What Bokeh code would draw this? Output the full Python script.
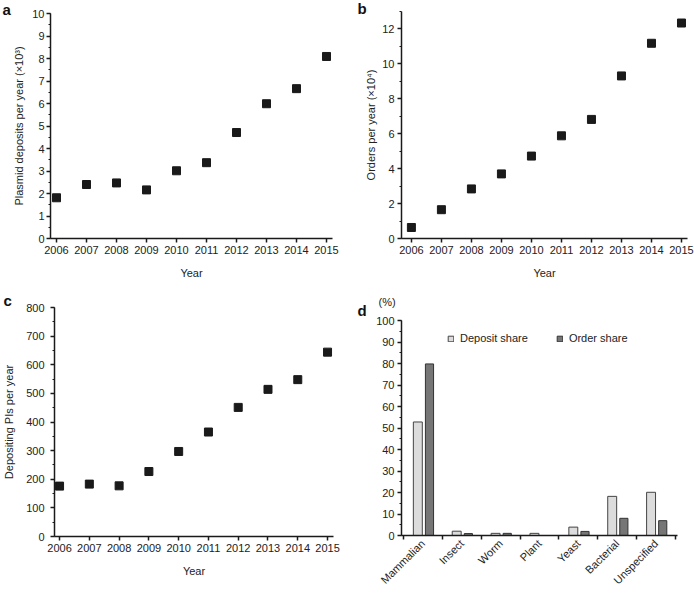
import math
from bokeh.plotting import figure
from bokeh.layouts import row, column
from bokeh.models import (Title, SingleIntervalTicker, FixedTicker, ColumnDataSource, Range1d)
from bokeh.transform import dodge
from bokeh.embed import file_html
from bokeh.resources import INLINE

# ---------------- data ----------------
years = [2006, 2007, 2008, 2009, 2010, 2011, 2012, 2013, 2014, 2015]
plasmid_deposits = [1.81, 2.40, 2.47, 2.16, 3.01, 3.37, 4.71, 5.99, 6.66, 8.09]   # x10^3
orders = [0.63, 1.65, 2.84, 3.70, 4.72, 5.88, 6.82, 9.31, 11.18, 12.34]           # x10^4
depositing_pis = [176, 183, 177, 227, 297, 365, 451, 514, 548, 644]

categories = ["Mammalian", "Insect", "Worm", "Plant", "Yeast", "Bacterial", "Unspecified"]
deposit_share = [52.8, 2.0, 1.0, 1.0, 3.9, 18.2, 20.1]
order_share = [79.8, 0.9, 1.0, 0.0, 1.9, 8.0, 6.9]

FONT = "Liberation Sans"
TXT = "#222222"
AX = "#1a1a1a"


def style_axes(p):
    for ax in (p.xaxis[0], p.yaxis[0]):
        ax.axis_line_color = AX
        ax.axis_line_width = 1.5
        ax.major_tick_line_color = AX
        ax.major_tick_line_width = 1.5
        ax.minor_tick_line_color = AX
        ax.minor_tick_line_width = 1.2
        ax.major_tick_in = 0
        ax.major_tick_out = 4
        ax.minor_tick_in = 0
        ax.minor_tick_out = 2
        ax.major_label_text_font = FONT
        ax.major_label_text_font_size = "11px"
        ax.major_label_text_color = TXT
        ax.axis_label_text_font = FONT
        ax.axis_label_text_font_size = "11px"
        ax.axis_label_text_font_style = "normal"
        ax.axis_label_text_color = TXT
        ax.major_label_standoff = 3
    p.xgrid.visible = False
    p.ygrid.visible = False
    p.outline_line_color = None


def set_letter(p, txt, offset, standoff):
    p.title.text = txt
    p.title.align = "left"
    p.title.offset = offset
    p.title.standoff = standoff
    p.title.text_font = FONT
    p.title.text_font_style = "bold"
    p.title.text_font_size = "15px"
    p.title.text_color = "#111111"


def year_panel(values, ylabel, xstart, ymax, interval, w, h, bl, br, bt, bb,
               ylab_standoff, ytick_standoff):
    p = figure(width=w, height=h, output_backend="svg", toolbar_location=None,
               x_range=Range1d(xstart, 2015.2), y_range=Range1d(0, ymax),
               min_border_left=bl, min_border_right=br, min_border_top=bt, min_border_bottom=bb,
               frame_align=False)
    p.scatter(years, values, marker="square", size=8, color="#1a1a1a")
    style_axes(p)
    p.xaxis[0].ticker = FixedTicker(ticks=years, minor_ticks=[])
    p.yaxis[0].ticker = SingleIntervalTicker(interval=interval, num_minor_ticks=2)
    p.xaxis[0].axis_label = "Year"
    p.xaxis[0].axis_label_standoff = 10
    p.yaxis[0].axis_label = ylabel
    p.yaxis[0].axis_label_standoff = ylab_standoff
    p.yaxis[0].major_label_standoff = ytick_standoff
    return p


# panel a
pa = year_panel(plasmid_deposits, "Plasmid deposits per year (×10³)", 2005.8, 10, 1,
                344, 290, 50, 12, 13, 52, 4, 2)
set_letter(pa, "a", -48, -9)

# panel b
pb = year_panel(orders, "Orders per year (×10⁴)", 2005.67, 13, 2,
                350, 290, 57, 7, 11, 52, 2, 3)
set_letter(pb, "b", -44, -11)

# panel c
pc = year_panel(depositing_pis, "Depositing PIs per year", 2005.83, 800, 100,
                344, 303, 51, 11, 17, 57, 8, 6)
set_letter(pc, "c", -51, -3)

# panel d
xs = [i + 0.5 for i in range(len(categories))]
src = ColumnDataSource(dict(x=xs, dep=deposit_share, ordr=order_share))
pd_ = figure(width=350, height=303, output_backend="svg", toolbar_location=None,
             x_range=Range1d(-0.05, 7.05), y_range=Range1d(0, 100),
             min_border_left=57, min_border_right=17, min_border_top=30, min_border_bottom=57,
             frame_align=False)
pd_.vbar(x=dodge("x", -0.13, range=pd_.x_range), top="dep", width=0.23, source=src,
         fill_color="#dcdcdc", line_color="#444444", line_width=1, legend_label="Deposit share")
pd_.vbar(x=dodge("x", 0.17, range=pd_.x_range), top="ordr", width=0.21, source=src,
         fill_color="#767676", line_color="#333333", line_width=1, legend_label="Order share")
style_axes(pd_)
pd_.yaxis[0].ticker = SingleIntervalTicker(interval=10, num_minor_ticks=2)
pd_.xaxis[0].ticker = FixedTicker(ticks=xs, minor_ticks=list(range(len(categories) + 1)))
pd_.xaxis[0].major_tick_out = 0
pd_.xaxis[0].minor_tick_out = 4
pd_.xaxis[0].minor_tick_line_width = 1.5
pd_.xaxis[0].major_label_overrides = {x: c for x, c in zip(xs, categories)}
pd_.xaxis[0].major_label_orientation = math.pi / 4
pd_.xaxis[0].major_label_standoff = 2

# "(%)" unit label (outer title) and letter "d" (inner title) on the same line
pd_.title.text = "(%)"
pd_.title.align = "left"
pd_.title.offset = -23
pd_.title.standoff = -19
pd_.title.text_font = FONT
pd_.title.text_font_style = "normal"
pd_.title.text_font_size = "11px"
pd_.title.text_color = TXT
pd_.add_layout(Title(text="d", align="left", offset=-44, standoff=3, text_font=FONT,
                     text_font_style="bold", text_font_size="15px", text_color="#111111"),
               "above")

lg = pd_.legend[0]
lg.orientation = "horizontal"
lg.location = (46, 191)
lg.background_fill_alpha = 0
lg.border_line_color = None
lg.padding = 0
lg.margin = 0
lg.spacing = 28
lg.glyph_width = 7
lg.glyph_height = 7
lg.label_height = 12
lg.label_standoff = 6
lg.label_text_font = FONT
lg.label_text_font_size = "11px"
lg.label_text_color = TXT

layout = column(row(pa, pb), row(pc, pd_))
open("out.html", "w").write(file_html(layout, INLINE))
